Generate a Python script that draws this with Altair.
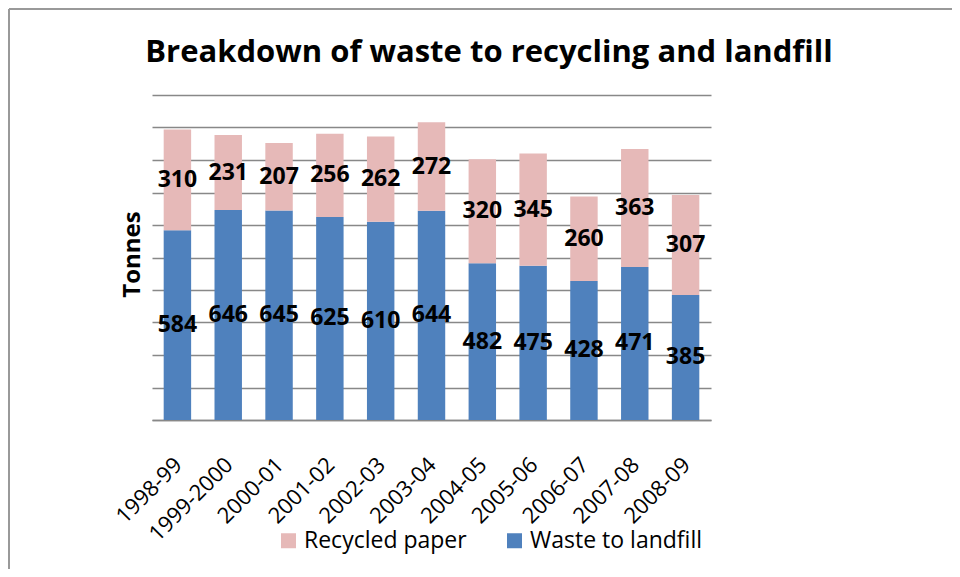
import altair as alt
import pandas as pd

title_text = "Breakdown of waste to recycling and landfill"
years = ["1998-99", "1999-2000", "2000-01", "2001-02", "2002-03", "2003-04",
         "2004-05", "2005-06", "2006-07", "2007-08", "2008-09"]
landfill = [584, 646, 645, 625, 610, 644, 482, 475, 428, 471, 385]
recycled = [310, 231, 207, 256, 262, 272, 320, 345, 260, 363, 307]
series = ["Recycled paper", "Waste to landfill"]
colors = ["#E6B9B8", "#4F81BD"]

rows = []
for y, w, r in zip(years, landfill, recycled):
    rows.append({"year": y, "series": "Waste to landfill", "value": w, "order": 0, "mid": w / 2})
    rows.append({"year": y, "series": "Recycled paper", "value": r, "order": 1, "mid": w + r / 2})
df = pd.DataFrame(rows)

FONT = "Open Sans"
W, H = 559, 325

x_axis = alt.Axis(labelAngle=-45, labelAlign="right", labelBaseline="middle",
                  labelFont=FONT, labelFontSize=22, labelColor="black",
                  labelPadding=41, labelOffset=1, ticks=False,
                  domainColor="#888888", domainWidth=1.5, title=None)
x_scale = alt.Scale(paddingInner=0.46, paddingOuter=0.23)
y_scale = alt.Scale(domain=[0, 1000], nice=False)
y_axis = alt.Axis(values=list(range(0, 1001, 100)), tickCount=20, labels=False, ticks=False,
                  domain=False, grid=True, gridColor="#888888", gridWidth=1.5,
                  title="Tonnes", titleFont=FONT, titleFontSize=24, titleFontWeight="bold",
                  titleColor="black", titlePadding=8, titleY=159)

bars = alt.Chart(df).mark_bar().encode(
    x=alt.X("year:N", sort=years, scale=x_scale, axis=x_axis),
    y=alt.Y("value:Q", stack="zero", scale=y_scale, axis=y_axis),
    color=alt.Color("series:N", scale=alt.Scale(domain=series, range=colors),
                    legend=alt.Legend(title=None, orient="none", direction="horizontal",
                                      legendX=125, legendY=434, symbolType="square",
                                      symbolSize=225, symbolStrokeWidth=0,
                                      labelFont=FONT, labelFontSize=23, labelColor="black",
                                      labelLimit=400, labelOffset=4, columnPadding=36)),
    order=alt.Order("order:Q", sort="ascending"),
)

labels = alt.Chart(df).mark_text(font=FONT, fontSize=23, fontWeight="bold", color="black").encode(
    x=alt.X("year:N", sort=years, scale=x_scale, axis=x_axis),
    y=alt.Y("mid:Q", scale=y_scale, axis=y_axis),
    text=alt.Text("value:Q"),
)

title_df = pd.DataFrame({"t": [title_text]})
title = alt.Chart(title_df).mark_text(font=FONT, fontSize=31, fontWeight="bold", color="black",
                                      align="center", baseline="alphabetic").encode(
    x=alt.value(337), y=alt.value(-33), text="t:N")

border_top = alt.Chart(title_df).mark_rule(color="#999999", strokeWidth=2).encode(
    x=alt.value(-143), x2=alt.value(808), y=alt.value(-86))
border_left = alt.Chart(title_df).mark_rule(color="#999999", strokeWidth=2).encode(
    x=alt.value(-143), y=alt.value(-86), y2=alt.value(480))

chart = alt.layer(bars, labels, title, border_top, border_left).properties(
    width=W, height=H,
    autosize=alt.AutoSizeParams(type="none"),
    padding={"left": 144, "top": 87, "right": 241, "bottom": 149},
).configure_view(stroke=None)

chart.save("out.html", embed_options={"renderer": "svg", "actions": False})
